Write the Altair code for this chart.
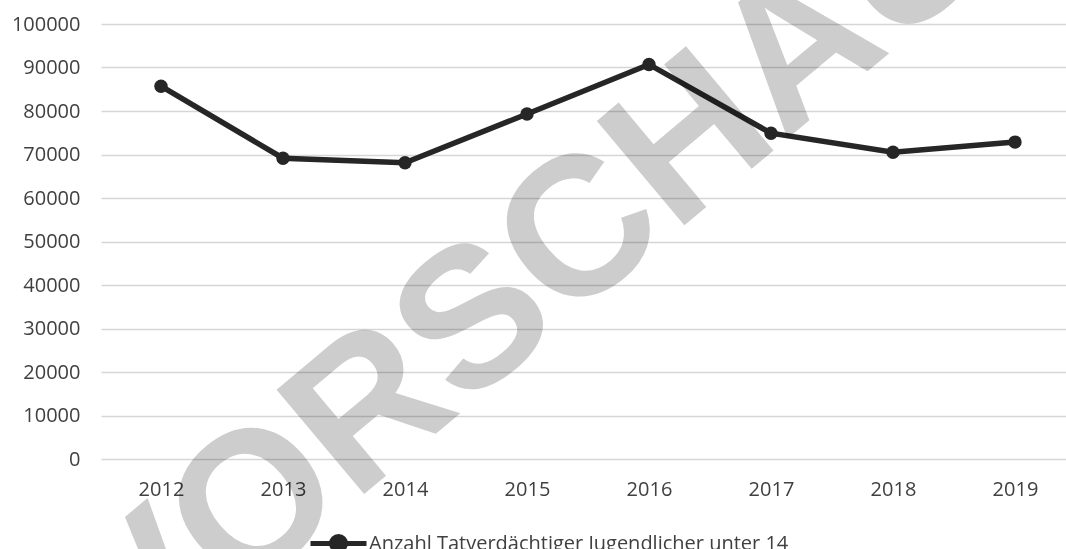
import altair as alt
import pandas as pd

years = ["2012", "2013", "2014", "2015", "2016", "2017", "2018", "2019"]
values = [85700, 69150, 68100, 79300, 90700, 74900, 70500, 72850]
series_name = "Anzahl Tatverdächtiger Jugendlicher unter 14"
y_ticks = [0, 10000, 20000, 30000, 40000, 50000, 60000, 70000, 80000, 90000, 100000]
watermark = ["VORSCHAU"]

df = pd.DataFrame({"Jahr": years, "Anzahl": values, "Reihe": [series_name] * len(years)})
wm = pd.DataFrame({"t": watermark})

FONT = "Open Sans"
LINE_COLOR = "#262626"
TEXT_COLOR = "#404040"

legend_path = "M-1,0L1,0M0.25,0A0.25,0.25,0,1,1,-0.25,0A0.25,0.25,0,1,1,0.25,0Z"

base = alt.Chart(df).encode(
    x=alt.X(
        "Jahr:O",
        sort=years,
        scale=alt.Scale(type="point", padding=0.4549, align=0.5405),
        axis=alt.Axis(
            title=None, labelAngle=0, ticks=False, domain=False, grid=False,
            labelFont=FONT, labelFontSize=20, labelColor=TEXT_COLOR, labelPadding=20,
        ),
    ),
    y=alt.Y(
        "Anzahl:Q",
        scale=alt.Scale(domain=[0, 100000], nice=False, zero=True),
        axis=alt.Axis(
            title=None, values=y_ticks, ticks=False, domain=False,
            grid=True, gridColor="#d6d6d6", gridWidth=1.3,
            labelFont=FONT, labelFontSize=20, labelColor=TEXT_COLOR, labelPadding=21,
            format="d",
        ),
    ),
    color=alt.Color(
        "Reihe:N",
        scale=alt.Scale(range=[LINE_COLOR]),
        legend=alt.Legend(
            title=None, orient="none", legendX=207, legendY=489,
            symbolType=legend_path, symbolSize=3136, symbolStrokeWidth=5,
            symbolFillColor=LINE_COLOR, symbolStrokeColor=LINE_COLOR,
            labelFont=FONT, labelFontSize=20, labelColor=TEXT_COLOR,
            labelOffset=0, padding=0, labelLimit=0,
        ),
    ),
)

line = base.mark_line(strokeWidth=5.5, color=LINE_COLOR)
points = base.mark_point(filled=True, size=180, opacity=1, color=LINE_COLOR)

mark_wm = alt.Chart(wm).mark_text(
    font="Liberation Sans", fontWeight="bold", fontSize=198, angle=320,
    align="center", baseline="middle", color="#cdcdcd", blend="multiply",
).encode(text="t:N", x=alt.value(430), y=alt.value(253))

chart = alt.layer(line, points, mark_wm).properties(
    width=965, height=435,
    autosize=alt.AutoSizeParams(type="none"),
    padding={"left": 101, "top": 24, "right": 0, "bottom": 90},
).configure_view(stroke=None)

chart.save("out.html", embed_options={"renderer": "svg", "actions": False})
